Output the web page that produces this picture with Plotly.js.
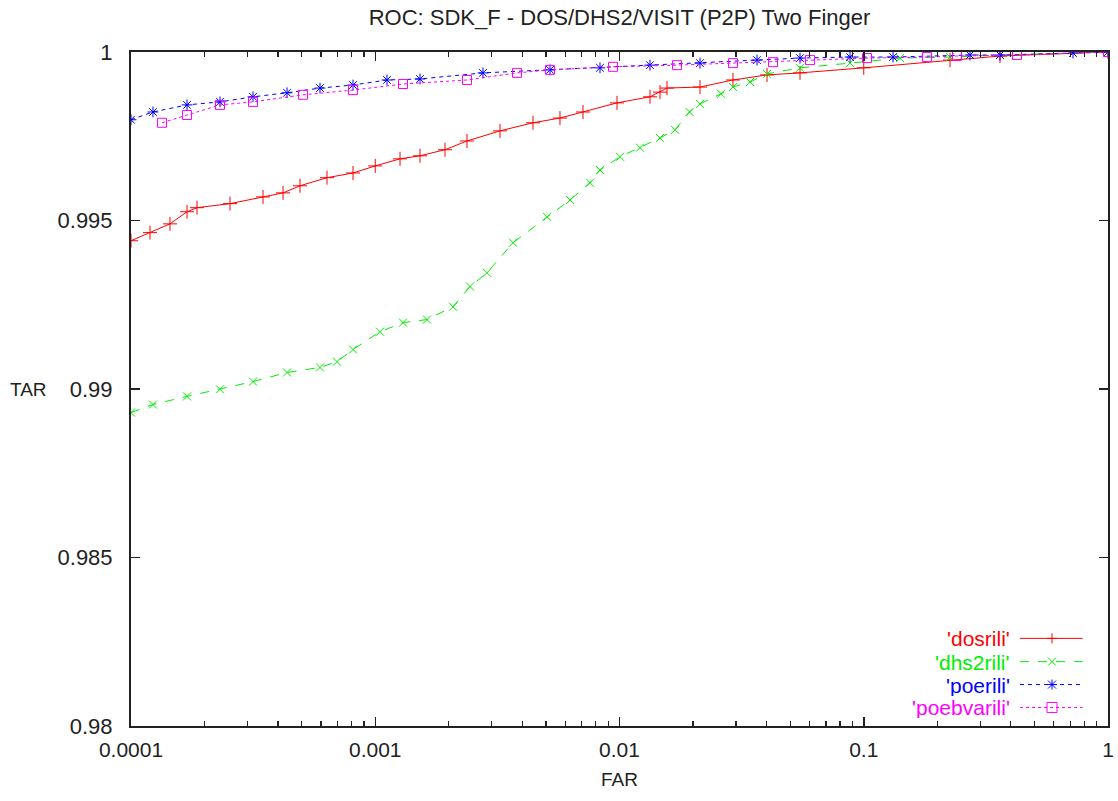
<!DOCTYPE html>
<html>
<head>
<meta charset="utf-8">
<script src="https://cdn.plot.ly/plotly-3.0.1.min.js"></script>
<style>html,body{margin:0;padding:0;background:#fff}#chart{width:1118px;height:801px}</style>
</head>
<body>
<div id="chart"></div>
<script>
// ---- data (FAR, TAR) ----
const dosriliFAR = [1.0e-4,1.196e-4,1.444e-4,1.696e-4,1.863e-4,2.543e-4,3.471e-4,4.193e-4,4.919e-4,6.345e-4,8.109e-4,1.0e-3,1.263e-3,1.525e-3,1.930e-3,2.375e-3,3.242e-3,4.424e-3,5.706e-3,7.088e-3,9.768e-3,1.333e-2,1.465e-2,1.565e-2,2.136e-2,2.915e-2,4.017e-2,5.483e-2,0.1,0.2255,0.3612,1.0];
const dosriliTAR = [0.99440,0.99464,0.99490,0.99526,0.99538,0.99550,0.99570,0.99582,0.99603,0.99627,0.99641,0.99662,0.99683,0.99692,0.99710,0.99736,0.99766,0.99790,0.99804,0.99822,0.99849,0.99867,0.99881,0.99893,0.99896,0.99917,0.99932,0.99938,0.99953,0.99976,0.99988,1.0];

const dhs2riliFAR = [1.0e-4,1.230e-4,1.696e-4,2.314e-4,3.159e-4,4.353e-4,5.940e-4,6.973e-4,8.109e-4,1.046e-3,1.299e-3,1.629e-3,2.081e-3,2.443e-3,2.867e-3,3.664e-3,5.050e-3,6.273e-3,7.572e-3,8.321e-3,1.005e-2,1.213e-2,1.465e-2,1.688e-2,1.935e-2,2.136e-2,2.604e-2,2.915e-2,3.422e-2,4.017e-2,5.483e-2,8.786e-2,0.1408,0.2255,0.3612,1.0];
const dhs2riliTAR = [0.98930,0.98954,0.98978,0.98999,0.99022,0.99049,0.99064,0.99081,0.99117,0.99170,0.99197,0.99206,0.99244,0.99304,0.99345,0.99434,0.99511,0.99561,0.99612,0.99650,0.99689,0.99716,0.99745,0.99769,0.99822,0.99846,0.99876,0.99896,0.99911,0.99935,0.99953,0.99967,0.99982,0.99985,0.99991,1.0];

const poeriliFAR = [1.0e-4,1.230e-4,1.696e-4,2.314e-4,3.159e-4,4.353e-4,5.940e-4,8.109e-4,1.117e-3,1.525e-3,2.761e-3,5.194e-3,8.321e-3,1.333e-2,2.136e-2,3.656e-2,5.483e-2,8.786e-2,0.1318,0.2723,0.3612,0.7189,1.0];
const poeriliTAR = [0.99799,0.99822,0.99843,0.99852,0.99867,0.99879,0.99893,0.99902,0.99917,0.99920,0.99938,0.99947,0.99953,0.99961,0.99967,0.99976,0.99982,0.99985,0.99985,0.99991,0.99991,0.99997,1.0];

const poebvariliFAR = [1.339e-4,1.696e-4,2.314e-4,3.159e-4,5.060e-4,8.109e-4,1.299e-3,2.375e-3,3.805e-3,5.194e-3,9.406e-3,1.720e-2,2.915e-2,4.251e-2,6.025e-2,0.1031,0.1816,0.2409,0.4241,1.0];
const poebvariliTAR = [0.99790,0.99813,0.99843,0.99852,0.99873,0.99887,0.99905,0.99917,0.99938,0.99947,0.99956,0.99961,0.99967,0.99970,0.99976,0.99982,0.99985,0.99988,0.99991,1.0];

const seriesNames = ["'dosrili'", "'dhs2rili'", "'poerili'", "'poebvarili'"];
const xTickVals = [0.0001, 0.001, 0.01, 0.1, 1];
const xTickText = ['0.0001', '0.001', '0.01', '0.1', '1'];
const yTickVals = [0.98, 0.985, 0.99, 0.995, 1];
const yTickText = ['0.98', '0.985', '0.99', '0.995', '1'];

// ---- styles ----
const FONT = 'Liberation Sans, Arial, Helvetica, sans-serif';
const styles = [
  {color: '#ff0000', symbol: 'cross-thin', size: 10, dash: 'solid'},
  {color: '#00ee00', symbol: 'x-thin', size: 8, dash: 'dash'},
  {color: '#0000ff', symbol: 'asterisk', size: 9, dash: '4px,4px'},
  {color: '#ff00ff', symbol: 'square-open', size: 9, dash: 'dot'}
];
const xs = [dosriliFAR, dhs2riliFAR, poeriliFAR, poebvariliFAR];
const ys = [dosriliTAR, dhs2riliTAR, poeriliTAR, poebvariliTAR];

const traces = seriesNames.map((n, i) => ({
  type: 'scatter', mode: 'lines+markers', name: n,
  x: xs[i], y: ys[i],
  line: {color: styles[i].color, width: 1, dash: styles[i].dash},
  marker: {symbol: styles[i].symbol, size: styles[i].size, color: styles[i].color,
           line: {color: styles[i].color, width: 1}},
  cliponaxis: true, showlegend: false
}));

// minor ticks for log x axis
const minorX = [];
for (let e = -4; e < 0; e++) for (let m = 2; m <= 9; m++) minorX.push(m * Math.pow(10, e));

// ---- gnuplot-style key (text right, sample on the right) ----
const keyY = [0.130, 0.0955, 0.0615, 0.0275];
const annotations = [];
const shapes = [];
seriesNames.forEach((n, i) => {
  const c = styles[i].color;
  annotations.push({xref: 'paper', yref: 'paper', x: 0.901, y: keyY[i], xanchor: 'right', yanchor: 'middle',
    text: n, showarrow: false, height: 22, borderpad: 0, valign: 'middle',
    font: {family: FONT, size: 21, color: c}});
  shapes.push({type: 'line', xref: 'paper', yref: 'paper', x0: 0.910, x1: 0.974, y0: keyY[i], y1: keyY[i],
    line: {color: c, width: 1, dash: styles[i].dash}});
  const cx = 0.9427;
  const P = (x0, y0, x1, y1) => ({type: 'line', xref: 'paper', yref: 'paper', xsizemode: 'pixel', ysizemode: 'pixel',
    xanchor: cx, yanchor: keyY[i], x0: x0, x1: x1, y0: y0, y1: y1, line: {color: c, width: 1}});
  if (i === 0) { shapes.push(P(-5, 0, 5, 0)); shapes.push(P(0, -5, 0, 5)); }
  if (i === 1) { shapes.push(P(-4, -4, 4, 4)); shapes.push(P(-4, 4, 4, -4)); }
  if (i === 2) { shapes.push(P(-5, 0, 5, 0)); shapes.push(P(0, -5, 0, 5)); shapes.push(P(-4, -4, 4, 4)); shapes.push(P(-4, 4, 4, -4)); }
  if (i === 3) { shapes.push({type: 'rect', xref: 'paper', yref: 'paper', xsizemode: 'pixel', ysizemode: 'pixel',
    xanchor: cx, yanchor: keyY[i], x0: -5, x1: 5, y0: -5, y1: 5, line: {color: c, width: 1}, fillcolor: 'rgba(0,0,0,0)'}); }
});
// horizontal y-axis label as in gnuplot output
annotations.push({xref: 'paper', yref: 'paper', x: -0.105, y: 0.50, xanchor: 'center', yanchor: 'middle',
  text: 'TAR', showarrow: false, font: {family: FONT, size: 19, color: '#222'}});

const layout = {
  width: 1118, height: 801,
  margin: {l: 131, r: 10, t: 52, b: 75},
  paper_bgcolor: '#fff', plot_bgcolor: '#fff',
  font: {family: FONT, size: 22, color: '#222'},
  showlegend: false,
  title: {text: 'ROC: SDK_F - DOS/DHS2/VISIT (P2P) Two Finger', x: 0.5, xref: 'paper', y: 0.978, yanchor: 'middle',
          font: {family: FONT, size: 22, color: '#222'}},
  xaxis: {type: 'log', range: [-4, 0], tickvals: xTickVals, ticktext: xTickText,
    ticks: 'inside', ticklen: 9, tickwidth: 1.5, tickcolor: '#222',
    showline: true, linecolor: '#222', linewidth: 2, mirror: 'allticks', showgrid: false, zeroline: false,
    minor: {tickvals: minorX, ticks: 'inside', ticklen: 5, tickwidth: 1.2, tickcolor: '#222', showgrid: false},
    tickfont: {size: 21}, ticklabelstandoff: 4,
    title: {text: 'FAR', font: {size: 19}, standoff: 12}},
  yaxis: {range: [0.98, 1], tickvals: yTickVals, ticktext: yTickText,
    ticks: 'inside', ticklen: 9, tickwidth: 1.5, tickcolor: '#222',
    showline: true, linecolor: '#222', linewidth: 2, mirror: 'allticks', showgrid: false, zeroline: false,
    tickfont: {size: 22}, ticklabelstandoff: 12},
  annotations: annotations,
  shapes: shapes
};

Plotly.newPlot('chart', traces, layout, {displayModeBar: false, staticPlot: true});
</script>
</body>
</html>
